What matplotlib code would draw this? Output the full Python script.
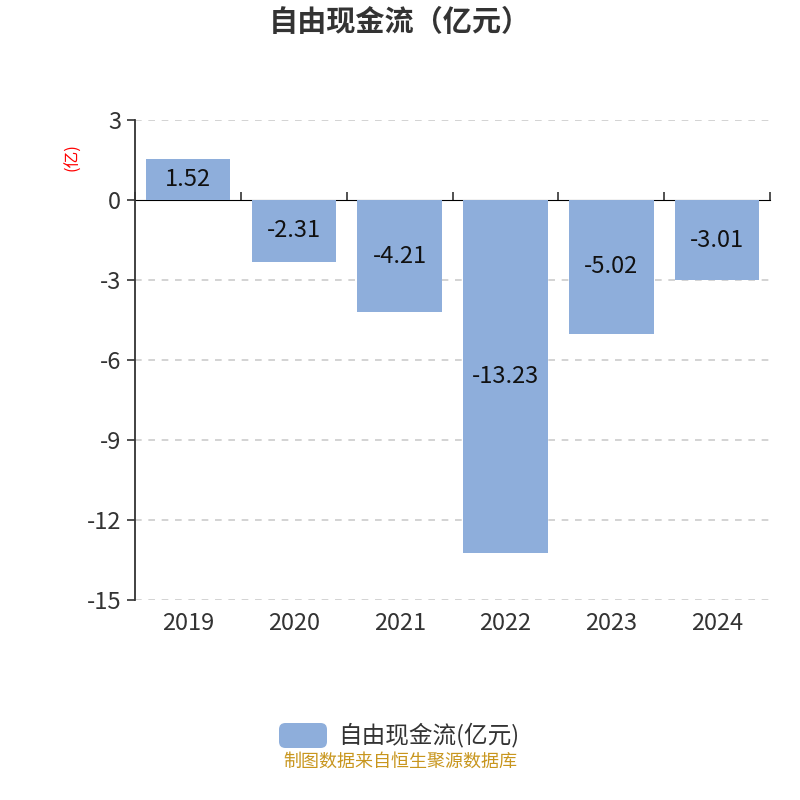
import matplotlib
matplotlib.use('Agg')
import matplotlib.pyplot as plt
from matplotlib.patches import FancyBboxPatch

plt.rcParams['font.family'] = ['Noto Sans CJK SC', 'DejaVu Sans']

years = ['2019', '2020', '2021', '2022', '2023', '2024']
values = [1.52, -2.31, -4.21, -13.23, -5.02, -3.01]
y_ticks = [3, 0, -3, -6, -9, -12, -15]

bar_color = '#8eaedb'
text_color = '#333333'

fig = plt.figure(figsize=(8, 8), dpi=100)
ax = fig.add_axes([0.169, 0.25, 0.7935, 0.60])

x = list(range(len(years)))
ax.bar(x, values, width=0.8, color=bar_color, zorder=3)
for xi, v in zip(x, values):
    ax.text(xi, v / 2, f'{v:.2f}', ha='center', va='center', fontsize=17, color='#111111', zorder=4)

ax.set_xlim(-0.5, len(years) - 0.5)
ax.set_ylim(-15, 3)
ax.set_yticks(y_ticks)
ax.set_yticklabels([str(t) for t in y_ticks])
for t in y_ticks:
    if t != 0:
        ax.axhline(t, color='#cccccc', linestyle=(0, (4, 4)), linewidth=1.2, zorder=1)

ax.set_xticks(x)
ax.set_xticklabels(years)
ax.tick_params(axis='x', length=0, pad=9, labelsize=17, labelcolor=text_color)
ax.tick_params(axis='y', length=6, width=1.2, color=text_color, pad=4, labelsize=17, labelcolor=text_color)

for side in ['top', 'right', 'bottom']:
    ax.spines[side].set_visible(False)
ax.spines['left'].set_color(text_color)
ax.spines['left'].set_linewidth(1.3)

# x axis line at zero with category boundary ticks
zero_pos = (0 - (-15)) / (3 - (-15))
sec = ax.secondary_xaxis(zero_pos)
sec.set_xticks([i - 0.5 for i in range(len(years) + 1)])
sec.set_xticklabels([])
sec.tick_params(axis='x', direction='out', length=6, width=1.2, color=text_color)
sec.spines['bottom'].set_color(text_color)
sec.spines['bottom'].set_linewidth(1.3)
sec.spines['bottom'].set_zorder(5)

fig.text(73 / 800, 1 - 157 / 800, '(亿)', rotation=90, ha='center', va='center', fontsize=12, color='red')

fig.text(0.5, 1 - 22 / 800, '自由现金流（亿元）', ha='center', va='center', fontsize=21, fontweight='bold', color=text_color)

# legend
leg_box = FancyBboxPatch((279 / 800, 1 - 748 / 800), 48 / 800, 25 / 800,
                         boxstyle='round,pad=0,rounding_size=0.008',
                         transform=fig.transFigure, facecolor=bar_color, edgecolor='none')
fig.patches.append(leg_box)
fig.text(338 / 800, 1 - 735 / 800, '自由现金流(亿元)', ha='left', va='center', fontsize=17, color=text_color)

fig.text(0.5, 1 - 762 / 800, '制图数据来自恒生聚源数据库', ha='center', va='center', fontsize=13, color='#c8961e')

fig.savefig('out.png', dpi=100)
